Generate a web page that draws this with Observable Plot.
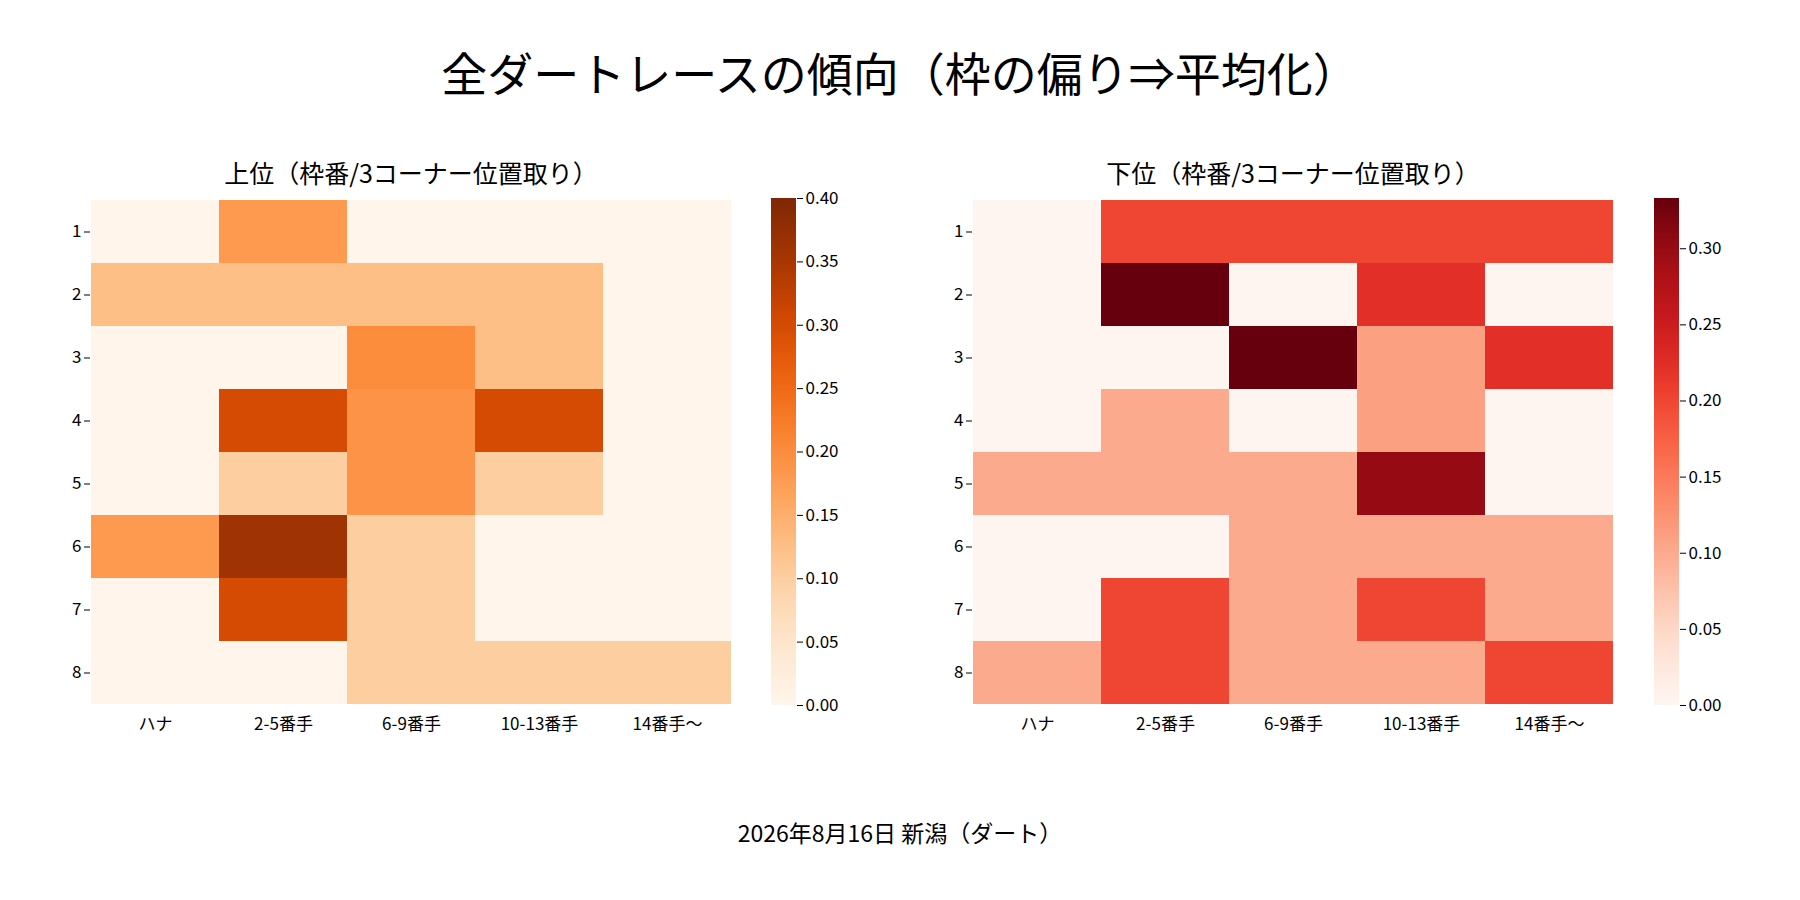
<!DOCTYPE html>
<html><head><meta charset="utf-8">
<script src="https://cdn.jsdelivr.net/npm/d3@7"></script>
<script src="https://cdn.jsdelivr.net/npm/@observablehq/plot@0.6"></script>
<style>
body{margin:0;width:1800px;height:900px;background:#fff;font-family:"Noto Sans CJK JP",sans-serif;position:relative;overflow:hidden}
.t{position:absolute;left:0;width:100%;text-align:center;color:#000}
.a{position:absolute}
</style></head><body>
<div class="t" style="top:38px;font-size:46px">全ダートレースの傾向（枠の偏り⇒平均化）</div>
<div class="a" style="left:90px;width:642px;top:154px;text-align:center;font-size:25px">上位（枠番/3コーナー位置取り）</div>
<div class="a" style="left:972px;width:642px;top:154px;text-align:center;font-size:25px">下位（枠番/3コーナー位置取り）</div>
<div class="t" style="top:815px;font-size:23px">2026年8月16日 新潟（ダート）</div>
<div id="h1" class="a" style="left:50px;top:198px"></div>
<div id="c1" class="a" style="left:771px;top:186px"></div>
<div id="h2" class="a" style="left:932px;top:198px"></div>
<div id="c2" class="a" style="left:1654px;top:186px"></div>
<script>
const cols = ["ハナ","2-5番手","6-9番手","10-13番手","14番手〜"];
const rows = [1,2,3,4,5,6,7,8];
const upper = [
 [0,0.18,0,0,0],
 [0.125,0.125,0.125,0.125,0],
 [0,0,0.2,0.125,0],
 [0,0.3,0.19,0.3,0],
 [0,0.1,0.19,0.1,0],
 [0.18,0.36,0.1,0,0],
 [0,0.3,0.1,0,0],
 [0,0,0.1,0.1,0.1]
];
const lower = [
 [0,0.2,0.2,0.2,0.2],
 [0,0.333,0,0.222,0],
 [0,0,0.333,0.111,0.222],
 [0,0.1,0,0.111,0],
 [0.1,0.1,0.1,0.3,0],
 [0,0,0.1,0.1,0.1],
 [0,0.2,0.1,0.2,0.1],
 [0.1,0.2,0.1,0.1,0.2]
];
const ticksU = [0,0.05,0.1,0.15,0.2,0.25,0.3,0.35,0.4];
const ticksL = [0,0.05,0.1,0.15,0.2,0.25,0.3];
const font = '"Noto Sans CJK JP",sans-serif';
function heat(vals, scheme, vmax){
  const data = [];
  rows.forEach((r,i)=>cols.forEach((c,j)=>data.push({r,c,v:vals[i][j]})));
  return Plot.plot({
    width:682,height:552,marginLeft:40,marginRight:0,marginTop:0,marginBottom:45,
    style:{fontFamily:font,fontSize:"17px",color:"#000"},
    x:{domain:cols,padding:0,label:null,tickSize:0,tickPadding:12},
    y:{domain:rows,padding:0,label:null,tickSize:6},
    color:{type:"linear",scheme,domain:[0,vmax]},
    marks:[Plot.cell(data,{x:"c",y:"r",fill:"v",inset:0})]
  });
}
function bar(scheme, vmax, ticks){
  const steps = d3.range(0,200).map(i=>({a:vmax*i/200,b:vmax*(i+1)/200}));
  return Plot.plot({
    width:100,height:531,marginLeft:0,marginRight:75,marginTop:12,marginBottom:12,
    style:{fontFamily:font,fontSize:"17px",color:"#000",overflow:"visible"},
    x:{domain:[0,1],axis:null},
    y:{domain:[0,vmax],axis:"right",ticks,tickFormat:d3.format(".2f"),label:null,tickSize:6},
    color:{type:"linear",scheme,domain:[0,vmax]},
    marks:[Plot.rect(steps,{x1:0,x2:1,y1:"a",y2:"b",fill:d=>(d.a+d.b)/2,inset:0,shapeRendering:"crispEdges"})]
  });
}
document.getElementById("h1").append(heat(upper,"oranges",0.4));
document.getElementById("c1").append(bar("oranges",0.4,ticksU));
document.getElementById("h2").append(heat(lower,"reds",0.333));
document.getElementById("c2").append(bar("reds",0.333,ticksL));
</script></body></html>
